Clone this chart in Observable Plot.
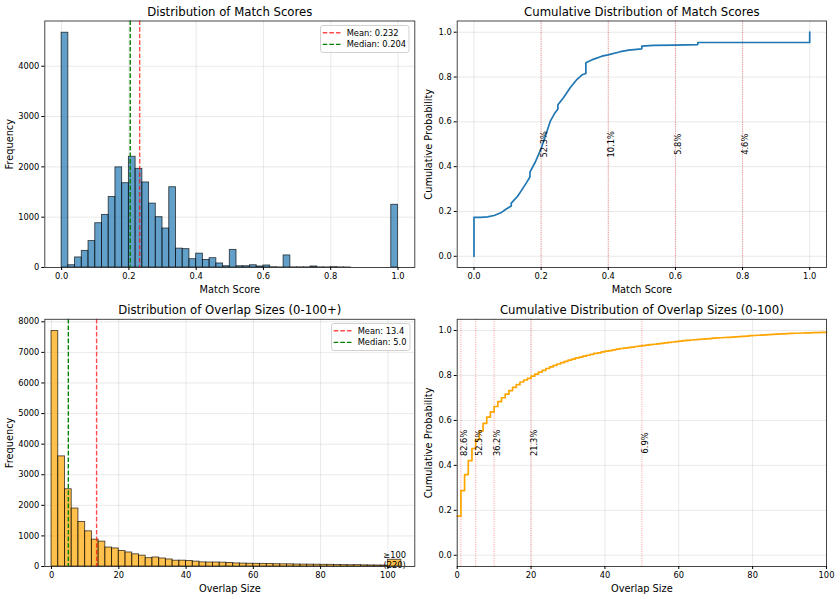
<!DOCTYPE html>
<html>
<head>
<meta charset="utf-8">
<script src="https://cdn.jsdelivr.net/npm/d3@7"></script>
<script src="https://cdn.jsdelivr.net/npm/@observablehq/plot@0.6"></script>
<style>
  html, body { margin: 0; padding: 0; background: #fff; }
  #fig { position: relative; width: 840px; height: 599px; overflow: hidden; background: #fff;
         font-family: "DejaVu Sans", sans-serif; }
</style>
</head>
<body>
<div id="fig"></div>
<script>
// ---------- Match scores ----------
// histogram counts, 50 bins of width 0.02 over [0, 1]
const matchCounts = [4665, 45, 200, 330, 525, 880, 1045, 1400, 1990, 1675,
                     2200, 1960, 1690, 1270, 1000, 775, 1595, 375, 365, 165,
                     275, 150, 185, 80, 25, 350, 25, 25, 45, 20,
                     40, 5, 2, 240, 3, 3, 3, 20, 3, 2,
                     7, 2, 1, 0, 0, 0, 0, 0, 0, 1246];
const matchBinCount = 50;
const matchRange = [0, 1];
const matchMean = 0.232;
const matchMedian = 0.204;
const matchTicks = [0, 0.2, 0.4, 0.6, 0.8, 1.0];
const matchFreqTicks = [0, 1000, 2000, 3000, 4000];

// empirical CDF of match scores (score, cumulative probability)
const matchCdfX = [0, 0, 0.02, 0.04, 0.06, 0.08, 0.095, 0.111, 0.111, 0.13,
                   0.145, 0.157, 0.1666, 0.1667, 0.183, 0.199, 0.213, 0.227, 0.242, 0.2499,
                   0.25, 0.267, 0.287, 0.307, 0.322, 0.3332, 0.3333, 0.357, 0.381, 0.399,
                   0.436, 0.461, 0.4999, 0.5, 0.535, 0.599, 0.6666, 0.6667, 0.799, 0.9999, 1.0];
const matchCdfY = [0, 0.174, 0.174, 0.176, 0.182, 0.194, 0.21, 0.224, 0.237, 0.268,
                   0.302, 0.33, 0.354, 0.376, 0.422, 0.477, 0.538, 0.602, 0.642, 0.657,
                   0.676, 0.709, 0.753, 0.79, 0.81, 0.816, 0.864, 0.88, 0.893, 0.899,
                   0.913, 0.92, 0.926, 0.938, 0.941, 0.942, 0.945, 0.954, 0.954, 0.954, 1.0];
const matchThresholds = [0.2, 0.4, 0.6, 0.8];
const matchAbovePct = [52.3, 10.1, 5.8, 4.6];

// ---------- Overlap sizes ----------
// histogram counts, 50 bins of width 2 over [0, 100], plus one overflow bar
const overlapCounts = [7697, 3600, 2525, 1895, 1455, 1150, 878, 813, 620, 590,
                       505, 458, 398, 355, 272, 295, 262, 230, 190, 190,
                       180, 160, 135, 130, 130, 125, 115, 100, 95, 90,
                       87, 85, 80, 75, 72, 70, 65, 62, 60, 58,
                       55, 55, 48, 45, 42, 45, 38, 35, 33, 30];
const overlapBinWidth = 2;
const overlapOverflowCount = 220;
const overlapOverflowRange = [100, 104];
const overlapMean = 13.4;
const overlapMedian = 5.0;
const overlapTicks = [0, 20, 40, 60, 80, 100];
const overlapFreqTicks = [0, 1000, 2000, 3000, 4000, 5000, 6000, 7000, 8000];

// cumulative probability P(size <= k) for k = 0 .. 100
const overlapCdf = [0.174, 0.288, 0.359, 0.421, 0.475, 0.515, 0.553, 0.587, 0.615, 0.638,
                    0.662, 0.684, 0.701, 0.717, 0.733, 0.747, 0.759, 0.771, 0.780, 0.787,
                    0.797, 0.806, 0.815, 0.823, 0.831, 0.838, 0.845, 0.851, 0.857, 0.863,
                    0.868, 0.873, 0.878, 0.882, 0.886, 0.890, 0.894, 0.898, 0.901, 0.905,
                    0.908, 0.911, 0.914, 0.917, 0.920, 0.922, 0.924, 0.926, 0.929, 0.931,
                    0.933, 0.935, 0.937, 0.939, 0.941, 0.943, 0.945, 0.947, 0.949, 0.951,
                    0.953, 0.955, 0.956, 0.958, 0.959, 0.961, 0.962, 0.963, 0.964, 0.966,
                    0.967, 0.968, 0.969, 0.970, 0.971, 0.972, 0.973, 0.974, 0.975, 0.977,
                    0.978, 0.979, 0.980, 0.981, 0.982, 0.983, 0.984, 0.985, 0.985, 0.986,
                    0.987, 0.988, 0.988, 0.989, 0.990, 0.990, 0.991, 0.991, 0.992, 0.992,
                    0.993];
const overlapThresholds = [1, 5, 10, 20, 50];
const overlapAbovePct = [82.6, 52.5, 36.2, 21.3, 6.9];

const probTicks = [0, 0.2, 0.4, 0.6, 0.8, 1.0];

// ---------- shared styling ----------
const FONT = "'DejaVu Sans', sans-serif";
const fig = document.getElementById("fig");
const baseStyle = {fontFamily: FONT, fontSize: "8.3px", color: "#000", background: "transparent", overflow: "visible"};
const grid = {stroke: "#b0b0b0", strokeOpacity: 0.35, strokeWidth: 0.8};
const frame = () => Plot.frame({stroke: "#333", strokeWidth: 0.9});
const fmt1 = d3.format(".1f");
const dash = {strokeWidth: 1.4, strokeDasharray: "4.6,2"};
const dotted = {stroke: "red", strokeOpacity: 0.5, strokeWidth: 0.9, strokeDasharray: "0.9,1.4"};

const title = (t) => Plot.text([t], {text: (d) => d, frameAnchor: "top", dy: -5, lineAnchor: "bottom", textAnchor: "middle", fontSize: 11.7});
const xLabel = (t) => Plot.text([t], {text: (d) => d, frameAnchor: "bottom", dy: 25.3, lineAnchor: "bottom", textAnchor: "middle", fontSize: 9.8});
const yLabel = (t, off) => Plot.text([t], {text: (d) => d, frameAnchor: "left", dx: -off, rotate: -90, lineAnchor: "bottom", textAnchor: "middle", fontSize: 9.8});
const axX = (ticks, f) => Plot.axisX(ticks, {tickFormat: f, tickSize: 3, tickPadding: 2.5, label: null});
const axY = (ticks, f) => Plot.axisY(ticks, {tickFormat: f, tickSize: 3, tickPadding: 2.5, label: null});

function place(node, left, top) {
  node.style.position = "absolute";
  node.style.left = left + "px";
  node.style.top = top + "px";
  fig.appendChild(node);
}

// legend box with dashed swatches (upper-right of a histogram panel)
function legend(left, top, width, items) {
  const h = 28;
  const svg = d3.create("svg").attr("width", width).attr("height", h)
    .style("font-family", FONT).style("font-size", "8.3px");
  svg.append("rect").attr("x", 0.5).attr("y", 0.5).attr("width", width - 1).attr("height", h - 1)
    .attr("rx", 2.5).attr("fill", "#fff").attr("fill-opacity", 0.8).attr("stroke", "#cccccc").attr("stroke-width", 0.9);
  items.forEach((it, k) => {
    const y = 7.7 + k * 11.7;
    svg.append("line").attr("x1", 2.7).attr("x2", 21.7).attr("y1", y).attr("y2", y)
      .attr("stroke", it.color).attr("stroke-opacity", it.opacity)
      .attr("stroke-width", 1.4).attr("stroke-dasharray", "4.6,2");
    svg.append("text").attr("x", 26.7).attr("y", y).attr("dy", "0.35em").attr("fill", "#000").text(it.label);
  });
  place(svg.node(), left, top);
}

// ---------- panel 1: histogram of match scores ----------
const matchEdges = d3.range(matchBinCount + 1).map((i) => matchRange[0] + (matchRange[1] - matchRange[0]) * i / matchBinCount);
const p1 = Plot.plot({
  width: 420, height: 300,
  marginLeft: 44.3, marginRight: 5.7, marginTop: 20.5, marginBottom: 33,
  style: baseStyle,
  x: {type: "linear", domain: [-0.05, 1.05]},
  y: {type: "linear", domain: [0, d3.max(matchCounts) * 1.05]},
  marks: [
    Plot.gridX(matchTicks, grid),
    Plot.gridY(matchFreqTicks, grid),
    Plot.rectY(matchCounts, {
      x1: (d, i) => matchEdges[i], x2: (d, i) => matchEdges[i + 1], y1: 0, y2: (d) => d,
      fill: "#1f77b4", fillOpacity: 0.7, stroke: "#000", strokeOpacity: 0.7, strokeWidth: 0.9
    }),
    Plot.ruleX([matchMean], {stroke: "red", strokeOpacity: 0.7, ...dash}),
    Plot.ruleX([matchMedian], {stroke: "green", ...dash}),
    frame(),
    axX(matchTicks, fmt1),
    axY(matchFreqTicks, (d) => String(d)),
    title("Distribution of Match Scores"),
    xLabel("Match Score"),
    yLabel("Frequency", 31.6)
  ]
});
place(p1, 0, 0);
legend(320, 24.5, 89.5, [
  {color: "red", opacity: 0.7, label: `Mean: ${matchMean.toFixed(3)}`},
  {color: "green", opacity: 1, label: `Median: ${matchMedian.toFixed(3)}`}
]);

// ---------- panel 2: CDF of match scores ----------
const p2 = Plot.plot({
  width: 420, height: 300,
  marginLeft: 36.7, marginRight: 14, marginTop: 20.5, marginBottom: 33,
  style: baseStyle,
  x: {type: "linear", domain: [-0.05, 1.05]},
  y: {type: "linear", domain: [-0.05, 1.05]},
  marks: [
    Plot.gridX(matchTicks, grid),
    Plot.gridY(probTicks, grid),
    Plot.ruleX(matchThresholds, dotted),
    Plot.line(matchCdfX, {x: (d) => d, y: (d, i) => matchCdfY[i], stroke: "#1f77b4", strokeWidth: 1.7}),
    Plot.text(matchThresholds, {
      x: (d) => d, y: () => 0.5, text: (d, i) => `${matchAbovePct[i].toFixed(1)}%`,
      rotate: -90, lineAnchor: "top", textAnchor: "middle", fontSize: 8.3
    }),
    frame(),
    axX(matchTicks, fmt1),
    axY(probTicks, fmt1),
    title("Cumulative Distribution of Match Scores"),
    xLabel("Match Score"),
    yLabel("Cumulative Probability", 25)
  ]
});
place(p2, 420, 0);

// ---------- panel 3: histogram of overlap sizes ----------
const overlapEdges = d3.range(overlapCounts.length + 1).map((i) => i * overlapBinWidth);
const p3 = Plot.plot({
  width: 420, height: 299,
  marginLeft: 44.3, marginRight: 5.7, marginTop: 18.8, marginBottom: 33,
  style: baseStyle,
  x: {type: "linear", domain: [-2, 108]},
  y: {type: "linear", domain: [0, d3.max(overlapCounts) * 1.05]},
  marks: [
    Plot.gridX(overlapTicks, grid),
    Plot.gridY(overlapFreqTicks, grid),
    Plot.rectY(overlapCounts, {
      x1: (d, i) => overlapEdges[i], x2: (d, i) => overlapEdges[i + 1], y1: 0, y2: (d) => d,
      fill: "#FFA500", fillOpacity: 0.7, stroke: "#000", strokeOpacity: 0.7, strokeWidth: 0.9
    }),
    Plot.rectY([overlapOverflowCount], {
      x1: () => overlapOverflowRange[0], x2: () => overlapOverflowRange[1], y1: 0, y2: (d) => d,
      fill: "#FFA500", fillOpacity: 0.7, stroke: "#000", strokeOpacity: 0.7, strokeWidth: 0.9
    }),
    Plot.text([overlapOverflowCount], {
      x: () => (overlapOverflowRange[0] + overlapOverflowRange[1]) / 2, y: (d) => d,
      text: (d) => `≥${overlapOverflowRange[0]}\n(${d})`, lineAnchor: "middle", textAnchor: "middle",
      fontSize: 8.3, lineHeight: 1.15
    }),
    Plot.ruleX([overlapMean], {stroke: "red", strokeOpacity: 0.7, ...dash}),
    Plot.ruleX([overlapMedian], {stroke: "green", ...dash}),
    frame(),
    axX(overlapTicks, (d) => String(d)),
    axY(overlapFreqTicks, (d) => String(d)),
    title("Distribution of Overlap Sizes (0-100+)"),
    xLabel("Overlap Size"),
    yLabel("Frequency", 31.6)
  ]
});
place(p3, 0, 300);
legend(331, 322.8, 79.5, [
  {color: "red", opacity: 0.7, label: `Mean: ${overlapMean.toFixed(1)}`},
  {color: "green", opacity: 1, label: `Median: ${overlapMedian.toFixed(1)}`}
]);

// ---------- panel 4: CDF of overlap sizes ----------
const p4 = Plot.plot({
  width: 420, height: 299,
  marginLeft: 36.7, marginRight: 14, marginTop: 18.8, marginBottom: 33,
  style: baseStyle,
  x: {type: "linear", domain: [0, 100]},
  y: {type: "linear", domain: [-0.05, 1.05]},
  marks: [
    Plot.gridX(overlapTicks, grid),
    Plot.gridY(probTicks, grid),
    Plot.ruleX(overlapThresholds, dotted),
    Plot.line(overlapCdf, {x: (d, i) => i, y: (d) => d, curve: "step-after", stroke: "#FFA500", strokeWidth: 1.7}),
    Plot.text(overlapThresholds, {
      x: (d) => d, y: () => 0.5, text: (d, i) => `${overlapAbovePct[i].toFixed(1)}%`,
      rotate: -90, lineAnchor: "top", textAnchor: "middle", fontSize: 8.3
    }),
    frame(),
    axX(overlapTicks, (d) => String(d)),
    axY(probTicks, fmt1),
    title("Cumulative Distribution of Overlap Sizes (0-100)"),
    xLabel("Overlap Size"),
    yLabel("Cumulative Probability", 25)
  ]
});
place(p4, 420, 300);
</script>
</body>
</html>
